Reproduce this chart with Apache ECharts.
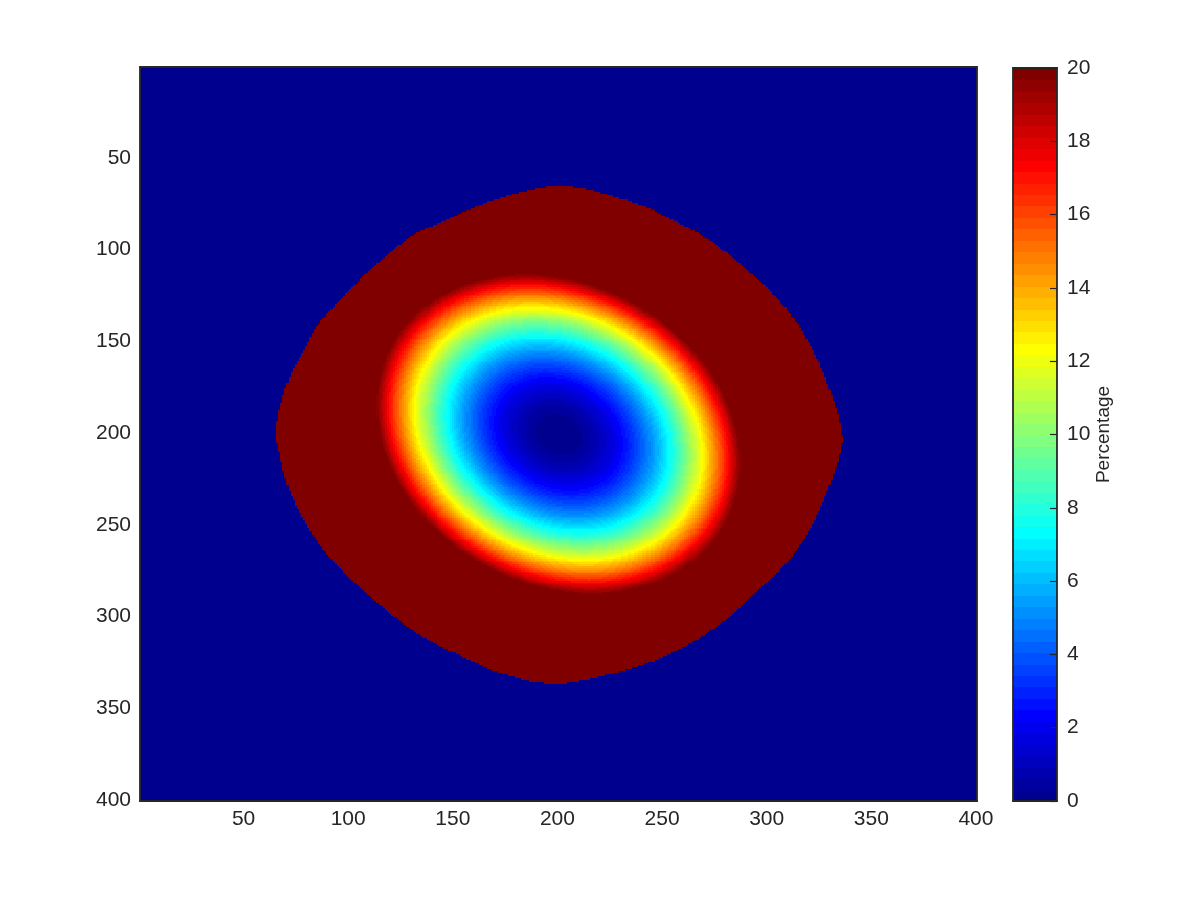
<!DOCTYPE html>
<html>
<head>
<meta charset="utf-8">
<script src="https://cdn.jsdelivr.net/npm/echarts@6/dist/echarts.min.js"></script>
<style>html,body{margin:0;padding:0;background:#fff}#chart{width:1200px;height:900px}</style>
</head>
<body>
<div id="chart"></div>
<script>
// ---- values ----
const nCols = 400;
const nRows = 400;
const xTickValues = [50, 100, 150, 200, 250, 300, 350, 400];
const yTickValues = [50, 100, 150, 200, 250, 300, 350, 400];
const colorbarTicks = [0, 2, 4, 6, 8, 10, 12, 14, 16, 18, 20];
const colorLimits = [0, 20];
const colorLevels = 64;
const colorbarLabel = 'Percentage';
// outline of the non-zero region (column, row), read around the red area
const boundaryX = [201, 230, 248.7, 272.6, 296.5, 312.4, 322, 328.4, 336, 331.5, 322, 309.3, 290.9, 272.6, 248.7, 224.8, 200.9, 178.6, 154.7, 130.8, 107, 91, 79.9, 71.9, 67.9, 65.5, 68.7, 73.5, 79.9, 84.7, 97.4, 107, 121.3, 132.5, 148.4, 170.7];
const boundaryY = [65.5, 72, 80.4, 94.9, 116.7, 136.7, 154.9, 171.2, 201, 223.9, 249.3, 271, 291, 308.3, 322.8, 331.4, 336.3, 332.8, 321.9, 307.4, 285.6, 267.5, 249.3, 231.1, 214.8, 199, 180.3, 165.7, 153, 142.1, 125.8, 114.9, 100.4, 91.3, 83.1, 72.6];
// minimum (0 %) location and the tilted ellipse where the value reaches 20 %
const minimumCenter = [200.5, 200.5];
const contour20Semiaxes = [95, 79];
const contour20AngleDeg = 45;

// ---- MATLAB jet(64) colormap ----
function jet(m) {
  const n = Math.ceil(m / 4);
  const u = [];
  for (let i = 1; i <= n; i++) u.push(i / n);
  for (let i = 1; i < n; i++) u.push(1);
  for (let i = n; i >= 1; i--) u.push(i / n);
  const g0 = Math.ceil(n / 2) - (m % 4 === 1 ? 1 : 0);
  const cmap = [];
  for (let i = 0; i < m; i++) cmap.push([0, 0, 0]);
  for (let k = 0; k < u.length; k++) {
    const g = g0 + k + 1, r = g + n, b = g - n;
    if (r >= 1 && r <= m) cmap[r - 1][0] = u[k];
    if (g >= 1 && g <= m) cmap[g - 1][1] = u[k];
    if (b >= 1 && b <= m) cmap[b - 1][2] = u[k];
  }
  return cmap.map(c => 'rgb(' + c.map(v => Math.round(v * 255)).join(',') + ')');
}
const jetColors = jet(colorLevels);

// smooth closed outline through the read points (Catmull-Rom)
const outline = [];
(function () {
  const n = boundaryX.length;
  for (let i = 0; i < n; i++) {
    const p0 = (i - 1 + n) % n, p1 = i, p2 = (i + 1) % n, p3 = (i + 2) % n;
    for (let s = 0; s < 12; s++) {
      const t = s / 12, t2 = t * t, t3 = t2 * t;
      const f = (a, b, c, d) => 0.5 * ((2 * b) + (-a + c) * t + (2 * a - 5 * b + 4 * c - d) * t2 + (-a + 3 * b - 3 * c + d) * t3);
      outline.push([f(boundaryX[p0], boundaryX[p1], boundaryX[p2], boundaryX[p3]),
                    f(boundaryY[p0], boundaryY[p1], boundaryY[p2], boundaryY[p3])]);
    }
  }
})();
function inside(px, py) {
  let c = false;
  for (let i = 0, j = outline.length - 1; i < outline.length; j = i++) {
    const xi = outline[i][0], yi = outline[i][1], xj = outline[j][0], yj = outline[j][1];
    if (((yi > py) !== (yj > py)) && (px < (xj - xi) * (py - yi) / (yj - yi) + xi)) c = !c;
  }
  return c;
}

const th = contour20AngleDeg * Math.PI / 180;
const cs = Math.cos(th), sn = Math.sin(th);
const cells = [];
for (let j = 0; j < nRows; j++) {
  const y = j + 1;
  for (let i = 0; i < nCols; i++) {
    const x = i + 1;
    let v = 0;
    if (inside(x, y)) {
      const dx = x - minimumCenter[0], dy = y - minimumCenter[1];
      const u = dx * cs + dy * sn, w = -dx * sn + dy * cs;
      const q = (u / contour20Semiaxes[0]) ** 2 + (w / contour20Semiaxes[1]) ** 2;
      v = Math.min(colorLimits[1], colorLimits[1] * q);
    }
    cells.push([i, j, v]);
  }
}

const step = (colorLimits[1] - colorLimits[0]) / colorLevels;
const pieces = jetColors.map((c, k) => {
  const p = { color: c };
  p.gte = k > 0 ? colorLimits[0] + k * step : -Infinity;
  if (k < colorLevels - 1) p.lt = colorLimits[0] + (k + 1) * step; else p.lte = Infinity;
  return p;
});
const levelCats = jetColors.map((c, k) => String(k));
const levelCells = jetColors.map((c, k) => [0, k, colorLimits[0] + (k + 0.5) * step]);

const colCats = Array.from({length: nCols}, (_, i) => String(i + 1));
const rowCats = Array.from({length: nRows}, (_, i) => String(i + 1));
const xTickFn = (idx) => xTickValues.indexOf(idx + 1) >= 0;
const yTickFn = (idx) => yTickValues.indexOf(idx + 1) >= 0;

// cells are drawn in data order; each one overlaps the next by 1px so no seams appear
function renderCell(params, api) {
  const c = api.coord([api.value(0), api.value(1)]);
  const s = api.size([1, 1]);
  const x0 = Math.round(c[0] - s[0] / 2), x1 = Math.round(c[0] + s[0] / 2);
  const y0 = Math.round(c[1] - s[1] / 2), y1 = Math.round(c[1] + s[1] / 2);
  return { type: 'rect', silent: true,
    shape: { x: x0, y: y0, width: x1 - x0 + 1, height: y1 - y0 + 1 },
    style: { fill: api.visual('color'), stroke: null } };
}

const ink = '#262626';
const font = "Helvetica, 'Liberation Sans', Arial, sans-serif";
const lineStyle = { color: ink, width: 1.8 };
const tickStyle = { color: ink, width: 1.2 };
const labelStyle = { color: ink, fontSize: 21, fontFamily: font };

const chart = echarts.init(document.getElementById('chart'), null, { renderer: 'canvas' });
chart.setOption({
  animation: false,
  backgroundColor: '#fff',
  grid: [
    { left: 140, top: 67, width: 837, height: 734 },
    { left: 1013, top: 68, width: 44, height: 733 }
  ],
  visualMap: { type: 'piecewise', show: false, dimension: 2, seriesIndex: [0, 1], pieces: pieces },
  xAxis: [
    { gridIndex: 0, type: 'category', data: colCats, position: 'bottom', boundaryGap: true, z: 10,
      axisLine: { lineStyle }, splitLine: { show: false },
      axisTick: { inside: true, length: 8, alignWithLabel: true, interval: xTickFn, lineStyle: tickStyle },
      axisLabel: Object.assign({ interval: xTickFn, margin: 8 }, labelStyle) },
    { gridIndex: 0, type: 'category', data: colCats, position: 'top', boundaryGap: true, z: 10,
      axisLine: { lineStyle }, splitLine: { show: false },
      axisTick: { inside: true, length: 8, alignWithLabel: true, interval: xTickFn, lineStyle: tickStyle },
      axisLabel: { show: false } },
    { gridIndex: 1, type: 'category', data: [''], position: 'bottom', z: 10,
      axisLine: { lineStyle }, axisTick: { show: false }, axisLabel: { show: false } },
    { gridIndex: 1, type: 'category', data: [''], position: 'top', z: 10,
      axisLine: { lineStyle }, axisTick: { show: false }, axisLabel: { show: false } }
  ],
  yAxis: [
    { gridIndex: 0, type: 'category', data: rowCats, inverse: true, position: 'left', boundaryGap: true, z: 10,
      axisLine: { lineStyle }, splitLine: { show: false },
      axisTick: { inside: true, length: 8, alignWithLabel: true, interval: yTickFn, lineStyle: tickStyle },
      axisLabel: Object.assign({ interval: yTickFn, margin: 9 }, labelStyle) },
    { gridIndex: 0, type: 'category', data: rowCats, inverse: true, position: 'right', boundaryGap: true, z: 10,
      axisLine: { lineStyle }, splitLine: { show: false },
      axisTick: { inside: true, length: 8, alignWithLabel: true, interval: yTickFn, lineStyle: tickStyle },
      axisLabel: { show: false } },
    { gridIndex: 1, type: 'category', data: levelCats, position: 'left', z: 10,
      axisLine: { lineStyle }, axisTick: { show: false }, axisLabel: { show: false } },
    { gridIndex: 1, type: 'value', position: 'right', min: colorLimits[0], max: colorLimits[1], interval: 2, z: 10,
      axisLine: { show: true, lineStyle }, splitLine: { show: false },
      axisTick: { show: true, inside: true, length: 7, lineStyle: tickStyle },
      axisLabel: Object.assign({ margin: 10 }, labelStyle),
      name: colorbarLabel, nameLocation: 'middle', nameRotate: 90, nameGap: 35,
      nameTextStyle: { color: ink, fontSize: 19, fontFamily: font } }
  ],
  series: [
    { type: 'custom', coordinateSystem: 'cartesian2d', xAxisIndex: 0, yAxisIndex: 0, data: cells,
      encode: { x: 0, y: 1 }, renderItem: renderCell, progressive: 0, silent: true, clip: true },
    { type: 'custom', coordinateSystem: 'cartesian2d', xAxisIndex: 2, yAxisIndex: 2, data: levelCells,
      encode: { x: 0, y: 1 }, renderItem: renderCell, progressive: 0, silent: true, clip: true }
  ]
});
</script>
</body>
</html>
